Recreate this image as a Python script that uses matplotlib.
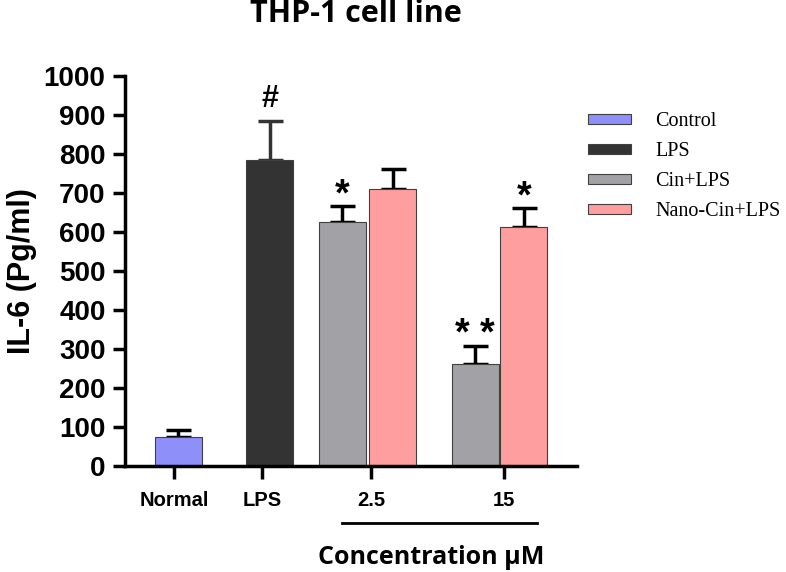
import numpy as np
from matplotlib import pyplot as plt
from matplotlib.patches import Patch

# data
groups = ['Control', 'LPS', 'Cin+LPS', 'Nano-Cin+LPS']
colors = ['#8f8ffa', '#333333', '#a2a2a6', '#ff9e9e']
bar_group = [0, 1, 2, 3, 2, 3]
bar_pos = [0.0, 1.95, 3.5, 4.57, 6.32, 7.36]
values = [74, 784, 626, 711, 261, 613]
errors = [20, 100, 41, 52, 48, 49]
marks = ['', '#', '*', '', '* *', '*']
tick_pos = [-0.085, 1.787, 4.106, 6.93]
tick_labels = ['Normal', 'LPS', '2.5', '15']
y_ticks = np.arange(0, 1001, 100)

plt.rcParams['font.family'] = ['Liberation Sans', 'DejaVu Sans']

fig = plt.figure(figsize=(7.86, 5.72), dpi=100)
ax = fig.add_axes([125 / 786, 0.185, 452 / 786, 0.682])

for i in range(len(values)):
    g = bar_group[i]
    ecol = '#333333' if g == 1 else 'black'
    ax.bar(bar_pos[i], values[i], width=1.0, color=colors[g],
           edgecolor='#404040', linewidth=0.8, zorder=2)
    ax.errorbar(bar_pos[i], values[i], yerr=[[0], [errors[i]]], fmt='none',
                ecolor=ecol, elinewidth=2.5, capsize=9, capthick=2.5, zorder=1)
    if marks[i]:
        top = values[i] + errors[i]
        if marks[i] == '#':
            ax.text(bar_pos[i], top + 38, marks[i], ha='center', va='baseline',
                    fontsize=22, fontweight='bold')
        else:
            ax.text(bar_pos[i], top + 2, marks[i], ha='center', va='baseline',
                    fontsize=27, fontweight='bold')

ax.set_xlim(-1.128, 8.49)
ax.set_ylim(0, 1000)
ax.set_yticks(y_ticks)
ax.set_xticks(tick_pos)
ax.set_xticklabels(tick_labels, fontsize=14.5, fontweight='bold')
for lab in ax.get_yticklabels():
    lab.set_fontsize(20)
    lab.set_fontweight('bold')
ax.tick_params(axis='both', width=2.5, length=9, direction='out', pad=5)
ax.tick_params(axis='x', pad=9)
for s in ['top', 'right']:
    ax.spines[s].set_visible(False)
for s in ['left', 'bottom']:
    ax.spines[s].set_linewidth(2.5)

ax.set_ylabel('IL-6 (Pg/ml)', fontsize=22, fontweight='bold', labelpad=5)
fig.text(356 / 786, 1 - 14 / 572, 'THP-1 cell line', ha='center', va='center',
         fontsize=22, fontweight='bold', family=['Open Sans', 'DejaVu Sans'])

# bracket under concentration groups
fig.add_artist(plt.Line2D([342 / 786, 537 / 786], [1 - 523 / 572, 1 - 523 / 572],
                          color='black', linewidth=2))
fig.text(431 / 786, 1 - 557 / 572, 'Concentration µM', ha='center', va='center',
         fontsize=18, fontweight='bold', family=['Open Sans', 'DejaVu Sans'])

handles = [Patch(facecolor=colors[k], edgecolor='#404040', linewidth=0.8)
           for k in range(len(groups))]
fig.legend(handles, groups, loc='upper left', bbox_to_anchor=(0.725, 0.836),
           frameon=False, prop={'family': 'Liberation Serif', 'size': 14.5},
           handlelength=2.15, handleheight=0.4, labelspacing=0.55, handletextpad=1.2)

fig.savefig('out.png', dpi=100)
